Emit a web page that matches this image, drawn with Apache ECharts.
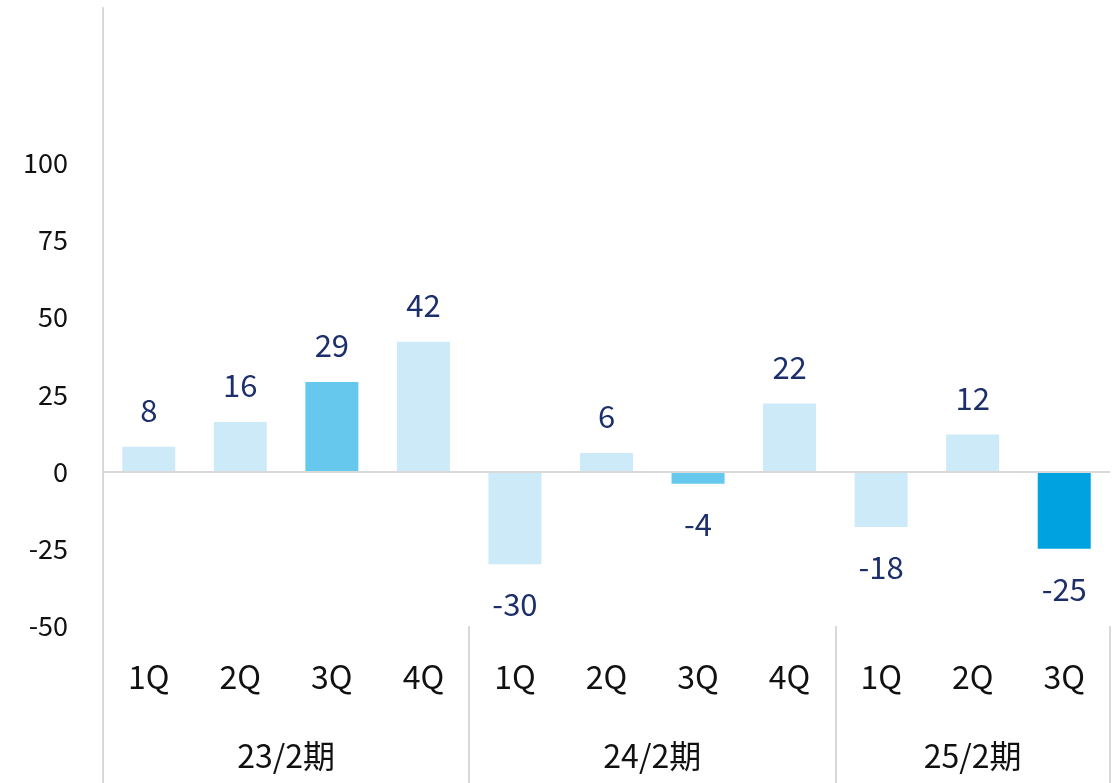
<!DOCTYPE html>
<html><head><meta charset="utf-8">
<script src="https://cdn.jsdelivr.net/npm/echarts@6/dist/echarts.min.js"></script>
<style>html,body{margin:0;padding:0;background:#fff}#c{width:1119px;height:783px}</style>
</head><body><div id="c"></div>
<script>
const quarters = ['1Q','2Q','3Q','4Q','1Q','2Q','3Q','4Q','1Q','2Q','3Q'];
const values = [8, 16, 29, 42, -30, 6, -4, 22, -18, 12, -25];
const groups = ['23/2期','24/2期','25/2期'];
const groupSizes = [4, 4, 3];
const colorKinds = ['light','light','mid','light','light','light','mid','light','light','light','dark'];
const yTicks = [-50, -25, 0, 25, 50, 75, 100];

const palette = {light:'#cceaf7', mid:'#66c8ec', dark:'#00a3e0'};
const FONT = '"Noto Sans CJK JP", "Noto Sans", sans-serif';

const bounds = [0]; groupSizes.forEach(s => bounds.push(bounds[bounds.length-1] + s));
const centres = groups.map((g, i) => (bounds[i] + bounds[i+1]) / 2);

const chart = echarts.init(document.getElementById('c'), null, {renderer:'canvas'});
chart.setOption({
  animation: false,
  backgroundColor: '#fff',
  grid: {left: 103, right: 9, top: 8, bottom: 157, containLabel: false},
  xAxis: [{
    type: 'category', data: quarters, position: 'bottom',
    axisLine: {show: false, onZero: false}, axisTick: {show: false},
    axisLabel: {fontSize: 32, color: '#111', fontFamily: FONT, margin: 35, interval: 0},
    splitLine: {show: false}
  }, {
    type: 'value', min: 0, max: quarters.length, position: 'bottom',
    axisLine: {show: false, onZero: false},
    axisTick: {show: true, customValues: bounds, length: 157, inside: false,
      lineStyle: {color: '#d9d9d9', width: 2}},
    axisLabel: {customValues: centres, fontSize: 32, color: '#111', fontFamily: FONT, margin: 114,
      formatter: v => { const i = centres.indexOf(v); return i >= 0 ? groups[i] : ''; }},
    splitLine: {show: false}
  }],
  yAxis: {
    type: 'value', min: -50, max: 150, interval: 25,
    axisLine: {show: true, lineStyle: {color: '#d9d9d9', width: 2}},
    axisTick: {show: false}, splitLine: {show: false},
    axisLabel: {fontSize: 27, color: '#111', fontFamily: FONT, margin: 35,
      formatter: v => yTicks.indexOf(v) >= 0 ? String(v) : ''}
  },
  series: [{
    type: 'bar', xAxisIndex: 0, barWidth: 53,
    data: values.map((v, i) => ({value: v, itemStyle: {color: palette[colorKinds[i]]},
      label: {position: v >= 0 ? 'top' : 'bottom', distance: v >= 0 ? 21 : 25}})),
    label: {show: true, fontSize: 31, color: '#1c2f6b', fontFamily: FONT},
    markLine: {silent: true, symbol: 'none', label: {show: false},
      lineStyle: {color: '#d9d9d9', width: 2, type: 'solid'}, data: [{yAxis: 0}]}
  }]
});
</script></body></html>
